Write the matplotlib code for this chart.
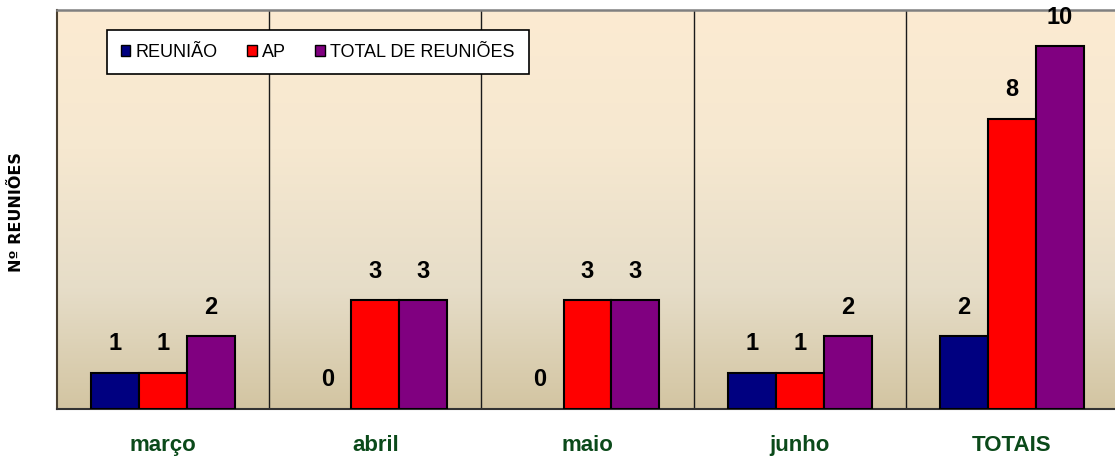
import numpy as np
import matplotlib
matplotlib.use("Agg")
import matplotlib.pyplot as plt
from matplotlib.colors import LinearSegmentedColormap
from matplotlib.patches import Patch

categories = ["março", "abril", "maio", "junho", "TOTAIS"]
reuniao = [1, 0, 0, 1, 2]
ap = [1, 3, 3, 1, 8]
total = [2, 3, 3, 2, 10]
series_names = ["REUNIÃO", "AP", "TOTAL DE REUNIÕES"]
series_colors = ["#000080", "#FF0000", "#800080"]

plt.rcParams['font.family'] = ['Liberation Sans', 'DejaVu Sans']

fig = plt.figure(figsize=(11.15, 4.61), dpi=100)
ax = fig.add_axes([57/1115, 52/461, 1061/1115, 399/461])

n = len(categories)
x = np.arange(n)

# gradient background (top light cream -> bottom tan)
cmap = LinearSegmentedColormap.from_list("bg", [(0, "#FCEBD2"), (0.35, "#F6E8D0"), (0.7, "#E6DDC8"), (1, "#D3C5A2")])
grad = np.linspace(0, 1, 256).reshape(-1, 1)
ax.imshow(grad, cmap=cmap, aspect="auto", extent=(-0.5, n - 0.5, 0, 11), origin="upper", zorder=0)
ax.set_xlim(-0.5, n - 0.5)
ax.set_ylim(0, 11)

w = 0.226
for i, (vals, col) in enumerate(zip([reuniao, ap, total], series_colors)):
    pos = x + (i - 1) * w
    ax.bar(pos, vals, width=w, color=col, edgecolor=["black" if v > 0 else "none" for v in vals],
           linewidth=1.5, zorder=3)
    for xi, v in zip(pos, vals):
        ax.annotate(str(v), (xi, v), xytext=(0, 21), textcoords="offset points",
                    ha="center", va="center", fontsize=17, fontweight="bold", color="black", zorder=4)

for b in np.arange(0.5, n - 0.5, 1.0):
    ax.axvline(b, color="#1a1a1a", linewidth=1.0, zorder=1)

ax.set_xticks(x)
ax.set_xticklabels(categories, fontsize=16, fontweight="bold", color="#0B4A1A")
ax.tick_params(axis="x", length=0, pad=19)
ax.set_yticks([])

ax.spines["top"].set_color("#808080")
ax.spines["top"].set_linewidth(1.8)
ax.spines["right"].set_visible(False)
ax.spines["left"].set_color("#4a4030")
ax.spines["left"].set_linewidth(1.5)
ax.spines["bottom"].set_color("#333333")
ax.spines["bottom"].set_linewidth(1.5)

fig.text(17/1115, 1 - 212/461, "Nº REUNIÕES", rotation=90, ha="center", va="center",
         fontsize=11.5, fontweight="heavy", family=["DejaVu Sans"], color="black")

handles = [Patch(facecolor=c, edgecolor="black", linewidth=1) for c in series_colors]
leg = ax.legend(handles, series_names, loc="upper left",
                bbox_to_anchor=((107 - 57) / 1061, (431 - 52) / 399),
                ncol=3, frameon=True, fancybox=False, fontsize=13, handlelength=0.55, handleheight=0.55,
                handletextpad=0.3, columnspacing=1.6, borderpad=0.75, borderaxespad=0)
leg.get_frame().set_edgecolor("black")
leg.get_frame().set_linewidth(1.2)
leg.get_frame().set_facecolor("white")
leg.get_frame().set_alpha(1)
leg.set_zorder(5)

fig.savefig("out.png", dpi=100)
